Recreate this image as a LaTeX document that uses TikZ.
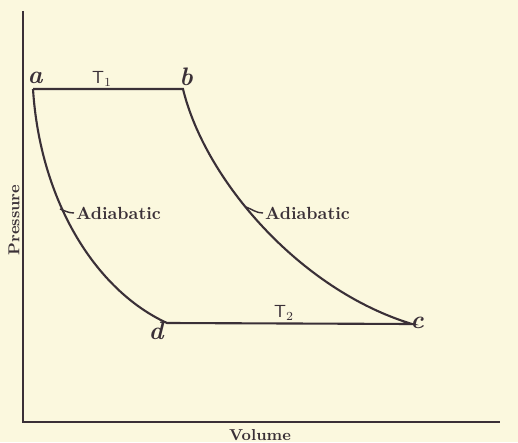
\documentclass[tikz,border=0pt]{standalone}
\usetikzlibrary{positioning}
\definecolor{paper}{HTML}{FBF8DE}
\definecolor{ink}{HTML}{3A3037}
\tikzset{
  curve/.style={line width=1.2pt, ink},
  pt/.style={font=\Large\itshape\bfseries, inner sep=1pt, ink},
  temp/.style={font=\sffamily, inner sep=1pt, ink},
  curvelabel/.style={font=\bfseries, inner sep=1pt, anchor=west, ink},
  axislabel/.style={font=\small\bfseries, inner sep=1pt, ink}
}
\begin{document}
\begin{tikzpicture}[x=0.02cm, y=-0.02cm]
    \fill[paper] (0,0) rectangle (518,442);
    % axes
    \coordinate (ytop) at (23,11);
    \coordinate (o) at (23,422);
    \coordinate (xend) at (500,422);
    \draw[curve] (ytop) -- (o) -- (xend);
    \node[axislabel, rotate=90] (pressure) at (14,220) {Pressure};
    \node[axislabel] (volume) at (260,435) {Volume};
    % cycle corners
    \coordinate (a) at (33,89);
    \coordinate (b) at (183,89);
    \coordinate (c) at (412,324);
    \coordinate (d) at (167,323);
    \draw[curve] (a) -- (b)
      .. controls (205,180) and (300,290) .. (c)
      -- (d)
      .. controls (95,290) and (40,200) .. (a);
    \node[pt] (la) at (35,78) {a};
    \node[pt] (lb) at (186,77) {b};
    \node[pt] (lc) at (417,323) {c};
    \node[pt] (ld) at (156,331) {d};
    \node[temp] (t1) at (102,79) {T$_1$};
    \node[temp] (t2) at (284,313) {T$_2$};
    % adiabatic labels
    \node[curvelabel] (adl) at (74,213) {Adiabatic};
    \node[curvelabel] (adr) at (263,213) {Adiabatic};
    \coordinate (ml) at (60,209);
    \coordinate (mr) at (246,207);
    \draw[ink, line width=0.8pt] (ml) to[out=-20, in=180] (adl.west);
    \draw[ink, line width=0.8pt] (mr) to[out=-20, in=180] (adr.west);
\end{tikzpicture}
\end{document}
